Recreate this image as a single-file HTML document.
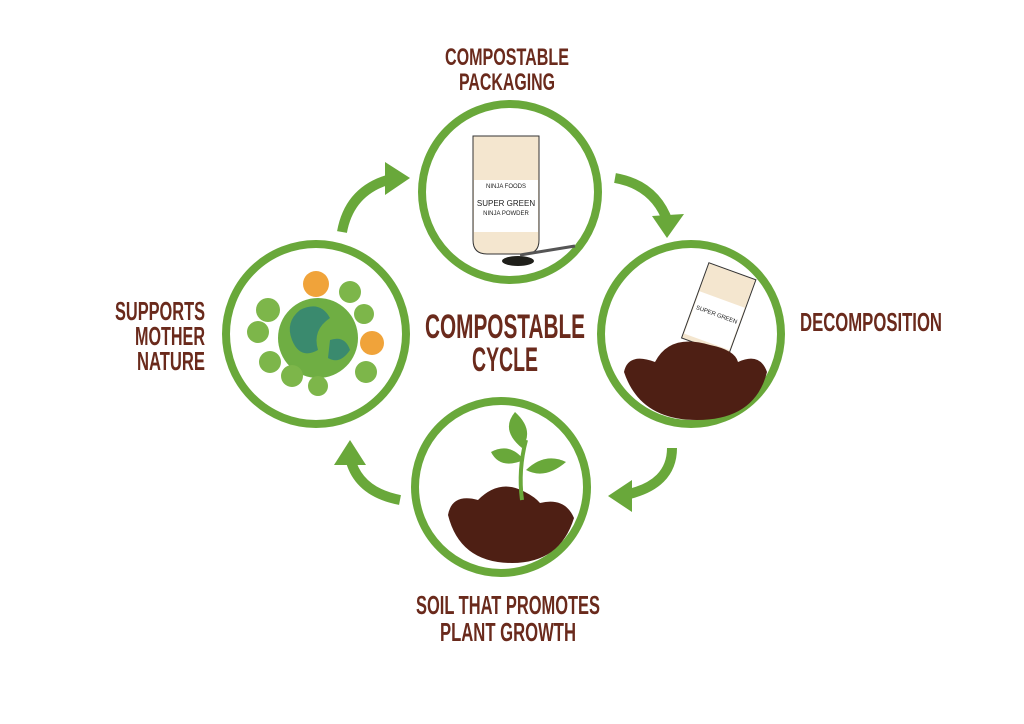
<!DOCTYPE html>
<html><head><meta charset="utf-8"><style>
html,body{margin:0;padding:0;background:#fff;}
svg{display:block}
text{font-family:"Liberation Sans Narrow","Liberation Sans",sans-serif;font-weight:bold;fill:#6a2a1c}
</style></head><body>
<svg width="1024" height="724" viewBox="0 0 1024 724" xmlns="http://www.w3.org/2000/svg">
<rect width="1024" height="724" fill="#fff"/>
<g fill="none" stroke="#69a83a" stroke-width="8">
<circle cx="510" cy="192" r="88"/>
<circle cx="691" cy="334" r="90"/>
<circle cx="501" cy="487" r="86"/>
<circle cx="316" cy="334" r="90"/>
<path d="M342 232 Q350 188 395 178" stroke-width="10"/>
<path d="M615 178 Q655 185 668 222" stroke-width="10"/>
<path d="M672 448 Q672 485 625 495" stroke-width="10"/>
<path d="M400 500 Q358 492 350 458" stroke-width="10"/>
</g>
<g fill="#69a83a">
<polygon points="385,162 410,178 385,195"/>
<polygon points="652,216 684,214 667,238"/>
<polygon points="632,480 608,496 632,512"/>
<polygon points="334,465 350,440 366,465"/>
</g>
<!-- top: pouch -->
<path d="M473 136 L539 136 L539 240 Q539 254 525 254 L487 254 Q473 254 473 240Z" fill="#f4e6cf" stroke="#333" stroke-width="1"/>
<rect x="474" y="180" width="64" height="52" fill="#fff"/>
<text x="506" y="188" font-size="6" text-anchor="middle" style="fill:#222;font-weight:normal">NINJA FOODS</text>
<text x="506" y="206" font-size="8" text-anchor="middle" style="fill:#222;font-weight:normal">SUPER GREEN</text>
<text x="506" y="215" font-size="6" text-anchor="middle" style="fill:#222;font-weight:normal">NINJA POWDER</text>
<ellipse cx="518" cy="261" rx="16" ry="5" fill="#1f1f1a"/>
<path d="M520 255 L575 246" stroke="#555" stroke-width="3"/>
<!-- right: decomposition -->
<g transform="rotate(20 720 320)"><rect x="690" y="270" width="50" height="80" fill="#f4e6cf" stroke="#333" stroke-width="1"/><rect x="691" y="300" width="48" height="45" fill="#fff"/>
<text x="715" y="318" font-size="6" text-anchor="middle" style="fill:#222;font-weight:normal">SUPER GREEN</text></g>
<path d="M624 372 Q628 352 655 362 Q670 333 710 345 Q735 350 738 362 Q760 352 767 372 Q755 420 697 420 Q640 420 624 372Z" fill="#4e1f14"/>
<!-- bottom: soil + plant -->
<path d="M448 515 Q452 493 478 500 Q500 478 525 492 Q535 497 540 503 Q565 497 574 518 Q560 563 512 563 Q460 563 448 515Z" fill="#4e1f14"/>
<path d="M522 500 Q518 470 526 440" stroke="#69a83a" stroke-width="4" fill="none"/>
<path d="M524 460 Q500 470 491 452 Q510 442 524 460Z" fill="#69a83a"/>
<path d="M526 470 Q545 480 566 462 Q545 452 526 470Z" fill="#69a83a"/>
<path d="M522 448 Q500 430 515 412 Q535 430 522 448Z" fill="#69a83a"/>
<!-- left: globe -->
<circle cx="318" cy="338" r="40" fill="#6fae43"/>
<path d="M300 310 Q320 300 330 318 Q312 330 318 350 Q300 360 292 340 Q285 322 300 310Z" fill="#3a8a6e"/>
<path d="M330 340 Q345 335 350 350 Q340 365 328 358Z" fill="#3a8a6e"/>
<g fill="#7db64a"><circle cx="268" cy="310" r="12"/><circle cx="258" cy="332" r="11"/><circle cx="270" cy="362" r="11"/><circle cx="350" cy="292" r="11"/><circle cx="364" cy="314" r="10"/><circle cx="366" cy="372" r="11"/><circle cx="292" cy="376" r="11"/><circle cx="318" cy="386" r="10"/></g>
<g fill="#f0a33a"><circle cx="316" cy="284" r="13"/><circle cx="372" cy="343" r="12"/></g>
<!-- labels -->
<text x="507" y="65" font-size="24" text-anchor="middle" textLength="124" lengthAdjust="spacingAndGlyphs">COMPOSTABLE</text>
<text x="507" y="90" font-size="24" text-anchor="middle" textLength="96" lengthAdjust="spacingAndGlyphs">PACKAGING</text>
<text x="505" y="338" font-size="34" text-anchor="middle" textLength="160" lengthAdjust="spacingAndGlyphs">COMPOSTABLE</text>
<text x="505" y="371" font-size="34" text-anchor="middle" textLength="66" lengthAdjust="spacingAndGlyphs">CYCLE</text>
<text x="800" y="331" font-size="26" textLength="142" lengthAdjust="spacingAndGlyphs">DECOMPOSITION</text>
<text x="205" y="320" font-size="26" text-anchor="end" textLength="90" lengthAdjust="spacingAndGlyphs">SUPPORTS</text>
<text x="205" y="345" font-size="26" text-anchor="end" textLength="70" lengthAdjust="spacingAndGlyphs">MOTHER</text>
<text x="205" y="370" font-size="26" text-anchor="end" textLength="68" lengthAdjust="spacingAndGlyphs">NATURE</text>
<text x="508" y="614" font-size="26" text-anchor="middle" textLength="184" lengthAdjust="spacingAndGlyphs">SOIL THAT PROMOTES</text>
<text x="508" y="641" font-size="26" text-anchor="middle" textLength="136" lengthAdjust="spacingAndGlyphs">PLANT GROWTH</text>
</svg>
</body></html>
